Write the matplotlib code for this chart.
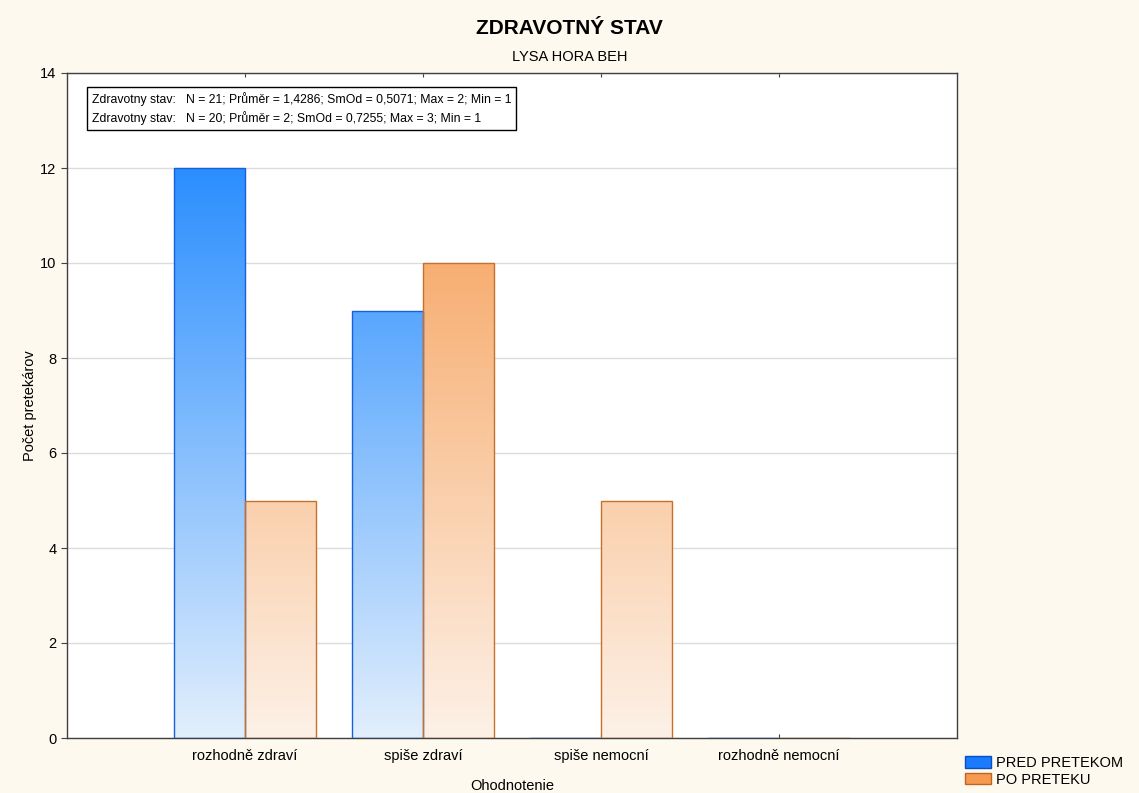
import numpy as np
import matplotlib
matplotlib.use("Agg")
import matplotlib.pyplot as plt
from matplotlib.patches import Patch
from matplotlib.colors import to_rgb

plt.rcParams['font.family'] = ['Liberation Sans', 'DejaVu Sans']

categories = ["rozhodně zdraví", "spiše zdraví", "spiše nemocní", "rozhodně nemocní"]
pred = [12, 9, 0, 0]
po = [5, 10, 5, 0]
series_labels = ["PRED PRETEKOM", "PO PRETEKU"]
yticks = [0, 2, 4, 6, 8, 10, 12, 14]
title = "ZDRAVOTNÝ STAV"
subtitle = "LYSA HORA BEH"
stats_lines = [
    "Zdravotny stav:   N = 21; Průměr = 1,4286; SmOd = 0,5071; Max = 2; Min = 1",
    "Zdravotny stav:   N = 20; Průměr = 2; SmOd = 0,7255; Max = 3; Min = 1",
]

W, H = 1139, 793
fig = plt.figure(figsize=(W / 100, H / 100), dpi=100)
fig.patch.set_facecolor('#FDF9EE')
ax = fig.add_axes([67 / W, (H - 738) / H, 890 / W, 665 / H])
ax.set_facecolor('white')

x = np.arange(len(categories))
bw = 0.4
blue_top, blue_bot, blue_edge = '#2B8EFF', '#E2EFFC', '#1560DD'
or_top, or_bot, or_edge = '#F6A15B', '#FDF1E7', '#C8702A'
gmax = 12.0


def grad_bars(xpos, vals, top, bot, edge):
    bars = ax.bar(xpos, vals, width=bw, align='edge', facecolor='none',
                  edgecolor=edge, linewidth=1, zorder=3)
    ct, cb = np.array(to_rgb(top)), np.array(to_rgb(bot))
    for b in bars:
        h = b.get_height()
        if h <= 0:
            continue
        t = np.linspace(0, h / gmax, 256)[:, None, None]
        img = cb + (ct - cb) * t
        im = ax.imshow(img, extent=[b.get_x(), b.get_x() + b.get_width(), 0, h],
                       origin='lower', aspect='auto', zorder=2, interpolation='bilinear')
        im.set_clip_path(b)
    return bars


grad_bars(x - bw, pred, blue_top, blue_bot, blue_edge)
grad_bars(x, po, or_top, or_bot, or_edge)

ax.set_xlim(-1, 4)
ax.set_ylim(0, 14)
ax.set_xticks(x)
ax.set_xticklabels(categories, fontsize=10.5)
ax.set_yticks(yticks)
ax.tick_params(axis='y', labelsize=10.5, direction='out', length=4, color='#404040')
ax.tick_params(axis='x', direction='in', length=3, top=True, color='#404040', pad=8)
ax.yaxis.grid(True, color='#DCDCDC', linewidth=1)
ax.set_axisbelow(True)
for s in ax.spines.values():
    s.set_color('#404040')
    s.set_linewidth(1)

ax.set_xlabel("Ohodnotenie", fontsize=10.5)
ax.xaxis.set_label_coords(0.5, -0.062)
ax.set_ylabel("Počet pretekárov", fontsize=10.5)
ax.yaxis.set_label_coords(-0.034, 0.5)

fig.text(569.5 / W, 1 - 29 / H, title, ha='center', va='center', fontsize=15, fontweight='bold')
fig.text(569.5 / W, 1 - 57 / H, subtitle, ha='center', va='center', fontsize=10.5)

fig.text(92 / W, 1 - 92 / H, "\n".join(stats_lines), ha='left', va='top', fontsize=8.8,
         linespacing=1.45,
         bbox=dict(boxstyle='square,pad=0.4', facecolor='white', edgecolor='black', linewidth=1))

handles = [Patch(facecolor='#1A7BFF', edgecolor='#0A4FC0', label=series_labels[0]),
           Patch(facecolor='#F59A50', edgecolor='#C0651F', label=series_labels[1])]
fig.legend(handles=handles, loc='upper left', bbox_to_anchor=(965 / W, 1 - 756 / H),
           frameon=False, fontsize=10.5, handlelength=1.75, handleheight=0.8,
           labelspacing=0.2, borderpad=0, handletextpad=0.35, borderaxespad=0)

fig.savefig("out.png", dpi=100, facecolor=fig.get_facecolor())
